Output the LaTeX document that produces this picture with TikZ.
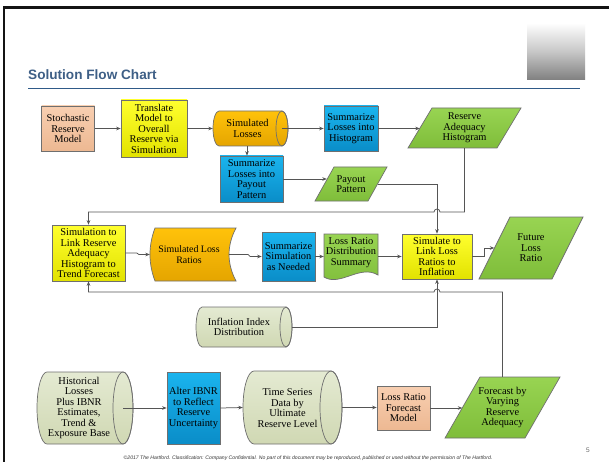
\documentclass[tikz,border=0pt]{standalone}
\usepackage{fontspec}
\setmainfont{Liberation Serif}
\setsansfont{Liberation Sans}
\usetikzlibrary{arrows.meta,calc}

\definecolor{edgec}{HTML}{6F6F6F}
\definecolor{connc}{HTML}{555555}
\definecolor{peachT}{HTML}{F8CFB1}
\definecolor{peachB}{HTML}{EDB892}
\definecolor{yelT}{HTML}{FFFF2E}
\definecolor{yelB}{HTML}{E2E200}
\definecolor{oraT}{HTML}{FFC20A}
\definecolor{oraB}{HTML}{E5A500}
\definecolor{bluT}{HTML}{1AB4EE}
\definecolor{bluB}{HTML}{0A8DC8}
\definecolor{grnT}{HTML}{98D452}
\definecolor{grnB}{HTML}{7FBD3A}
\definecolor{palT}{HTML}{E4EAD2}
\definecolor{palB}{HTML}{D0D8B3}
\definecolor{titleblue}{HTML}{3E5F86}
\definecolor{rulec}{HTML}{2F5A88}

\newcommand\nfs{\fontsize{10.4}{10.5}\selectfont}
\newcommand\hcyl[6]{% x1,y1,x2,y2,rx,ry (y as positive pixels)
  \path[cylfill] ({#1+#5},-#2) -- ({#3-#5},-#2) arc[start angle=90,end angle=-90,x radius=#5,y radius=#6]
     -- ({#1+#5},-#4) arc[start angle=270,end angle=90,x radius=#5,y radius=#6] -- cycle;
  \draw[draw=edgec,line width=0.7pt] ({#3-#5},{-(#2+#4)/2}) ellipse [x radius=#5,y radius=#6];
}

\tikzset{
  x=1pt, y=1pt,
  basebox/.style={draw=edgec, line width=0.7pt, inner sep=0pt, align=center, font=\nfs, text=black},
  peachbox/.style={basebox, top color=peachT, bottom color=peachB},
  yelbox/.style={basebox, top color=yelT, bottom color=yelB},
  blubox/.style={basebox, top color=bluT, bottom color=bluB},
  txt/.style={inner sep=0pt, align=center, font=\nfs, text=black},
  frame/.style={inner sep=0pt, draw=none},
  grnfill/.style={draw=edgec, line width=0.7pt, top color=grnT, bottom color=grnB},
  orafill/.style={draw=edgec, line width=0.7pt, top color=oraT, bottom color=oraB},
  palfill/.style={draw=edgec, line width=0.7pt, top color=palT, bottom color=palB},
  conn/.style={draw=connc, line width=0.75pt, -{Stealth[length=4.5pt,width=3.6pt]}},
}

\begin{document}
\begin{tikzpicture}
\useasboundingbox (0,0) rectangle (609,-462);
\fill[white] (0,0) rectangle (609,-462);

% slide frame
\fill[black!92] (2.7,-6) rectangle (5.3,-462);
\fill[black!92] (2.7,-6) rectangle (609,-9.3);

% header
\node[anchor=base west, inner sep=0pt, font=\sffamily\bfseries\fontsize{13.6}{14}\selectfont, text=titleblue] (title) at (28,-79.3) {Solution Flow Chart};
\draw[rulec, line width=1pt] (28,-88.3) -- (580,-88.3);
\shade[shading angle=45, top color=white, bottom color=black!50, middle color=black!22] (527,-23) rectangle (585,-80);

% ---------- shapes drawn first (backgrounds) ----------
% cylinders
\tikzset{cylfill/.style={orafill}}
\hcyl{213}{111}{288}{146}{6}{17.5}
\tikzset{cylfill/.style={palfill}}
\hcyl{196}{307}{292}{347}{6}{20}
\hcyl{37}{372}{133}{444}{10}{36}
\hcyl{243}{371}{342}{444}{11}{36.5}
% stored data
\path[orafill] (155,-228) -- (236,-228) .. controls (226.7,-245.7) and (226.7,-263.3) .. (236,-281)
   -- (155,-281) .. controls (148.3,-263.3) and (148.3,-245.7) .. (155,-228) -- cycle;
% document
\path[grnfill] (324,-234) -- (378,-234) -- (378,-275) .. controls (360,-264) and (340,-287) .. (324,-277) -- cycle;
% parallelograms
\path[grnfill] (432,-108) -- (521,-108) -- (497,-148) -- (408,-148) -- cycle;
\path[grnfill] (334,-167) -- (387,-167) -- (368,-201) -- (315,-201) -- cycle;
\path[grnfill] (510,-217) -- (583,-217) -- (552,-279) -- (479,-279) -- cycle;
\path[grnfill] (480,-377) -- (560,-377) -- (525,-438) -- (445,-438) -- cycle;

% ---------- nodes ----------
\node[peachbox, minimum width=53pt, minimum height=45pt] (srm) at (68,-128.5) {Stochastic\\Reserve\\Model};
\node[yelbox, minimum width=66pt, minimum height=57pt] (tmo) at (154,-128.5) {Translate\\Model to\\Overall\\Reserve via\\Simulation};
\node[frame, minimum width=75pt, minimum height=35pt] (sl) at (250.5,-128.5) {};
\node[txt] (sltxt) at (247.5,-128.5) {Simulated\\Losses};
\node[blubox, minimum width=54pt, minimum height=45pt] (slh) at (351,-128.5) {Summarize\\Losses into\\Histogram};
\node[frame, txt, minimum width=89pt, minimum height=40pt] (rah) at (464.5,-128) {Reserve\\Adequacy\\Histogram};
\node[blubox, minimum width=63pt, minimum height=46pt] (slp) at (251.5,-179) {Summarize\\Losses into\\Payout\\Pattern};
\node[frame, txt, minimum width=53pt, minimum height=34pt] (ppt) at (351,-184) {Payout\\Pattern};

\node[yelbox, minimum width=73pt, minimum height=56pt] (slr) at (88.5,-253) {Simulation to\\Link Reserve\\Adequacy\\Histogram to\\Trend Forecast};
\node[frame, minimum width=86pt, minimum height=53pt] (slrat) at (193,-254.5) {};
\node[txt, font=\fontsize{9.9}{11}\selectfont] (slrattxt) at (189,-254.5) {Simulated Loss\\Ratios};
\node[blubox, minimum width=53pt, minimum height=49pt] (ssn) at (288.5,-256.5) {Summarize\\Simulation\\as Needed};
\node[frame, minimum width=54pt, minimum height=44pt] (lrd) at (351,-256) {};
\node[txt] (lrdtxt) at (351,-252.5) {Loss Ratio\\Distribution\\Summary};
\node[yelbox, minimum width=70pt, minimum height=45pt] (sll) at (437,-256.5) {Simulate to\\Link Loss\\Ratios to\\Inflation};
\node[frame, txt, minimum width=73pt, minimum height=62pt] (flr) at (531,-248) {Future\\Loss\\Ratio};

\node[frame, minimum width=96pt, minimum height=40pt] (inf) at (244,-327) {};
\node[txt] (inftxt) at (239,-327) {Inflation Index\\Distribution};

\node[frame, minimum width=96pt, minimum height=72pt] (his) at (85,-408) {};
\node[txt] (histxt) at (79,-408) {Historical\\Losses\\Plus IBNR\\Estimates,\\Trend \&\\Exposure Base};
\node[blubox, minimum width=53pt, minimum height=72pt] (aib) at (193.5,-408) {Alter IBNR\\to Reflect\\Reserve\\Uncertainty};
\node[frame, minimum width=99pt, minimum height=73pt] (tss) at (292.5,-407.5) {};
\node[txt] (tsstxt) at (287.5,-408) {Time Series\\Data by\\Ultimate\\Reserve Level};
\node[peachbox, minimum width=53pt, minimum height=44pt] (lrf) at (403.5,-408) {Loss Ratio\\Forecast\\Model};
\node[frame, txt, minimum width=80pt, minimum height=61pt] (fvr) at (502.5,-407.5) {Forecast by\\Varying\\Reserve\\Adequacy};

% ---------- connectors ----------
\draw[conn] (srm.east) -- (tmo.west);
\draw[conn] (tmo.east) -- (sl.west);
\draw[conn] ([xshift=-6pt]sl.east) -- (slh.west);
\draw[conn] (slh.east) -- (slh.east -| rah.west);
\draw[conn] ([xshift=-3.5pt]sl.south) -- ([xshift=-3.5pt]sl.south |- slp.north);
\draw[conn] (slp.east) -- ([xshift=2.5pt]slp.east -| ppt.west);
\draw[conn] (ppt.east) -| (sll.north);
\draw[conn] (rah.south) |- (440,-212) arc[start angle=0,end angle=180,radius=3] -| (slr.north);
\draw[conn] (fvr.north) |- (440,-292) arc[start angle=0,end angle=180,radius=3] -| (slr.south);
\draw[conn] (inf.east) -| (sll.south);
\draw[conn] (sll.east) -- ++(12.5,0) |- (flr.west);
\draw[conn] (slr.east) -- ++(11.5,0) -- ++(2,-1.5) -- (slrat.west);
\draw[conn] ([xshift=-7pt]slrat.east) -- ++(19,0) -- ++(2,-2) -- (ssn.west);
\draw[conn] (ssn.east) -- (ssn.east -| lrd.west);
\draw[conn] (lrd.east |- sll.west) -- (sll.west);
\draw[conn] ([xshift=-10pt]his.east) -- (aib.west);
\draw[conn] (aib.east) -- (tss.west);
\draw[conn] (tss.east) -- (tss.east -| lrf.west);
\draw[conn] (lrf.east) -- (lrf.east -| fvr.west);

% footer
\node[inner sep=0pt, font=\sffamily\itshape\fontsize{5.1}{5.5}\selectfont, text=black!80] (foot) at (308,-458.5) {\textcopyright 2017 The Hartford. Classification: Company Confidential. No part of this document may be reproduced, published or used without the permission of The Hartford.};
\node[inner sep=0pt, font=\sffamily\fontsize{6.5}{7}\selectfont, text=black!60] (pg) at (588,-450) {5};
\end{tikzpicture}
\end{document}
